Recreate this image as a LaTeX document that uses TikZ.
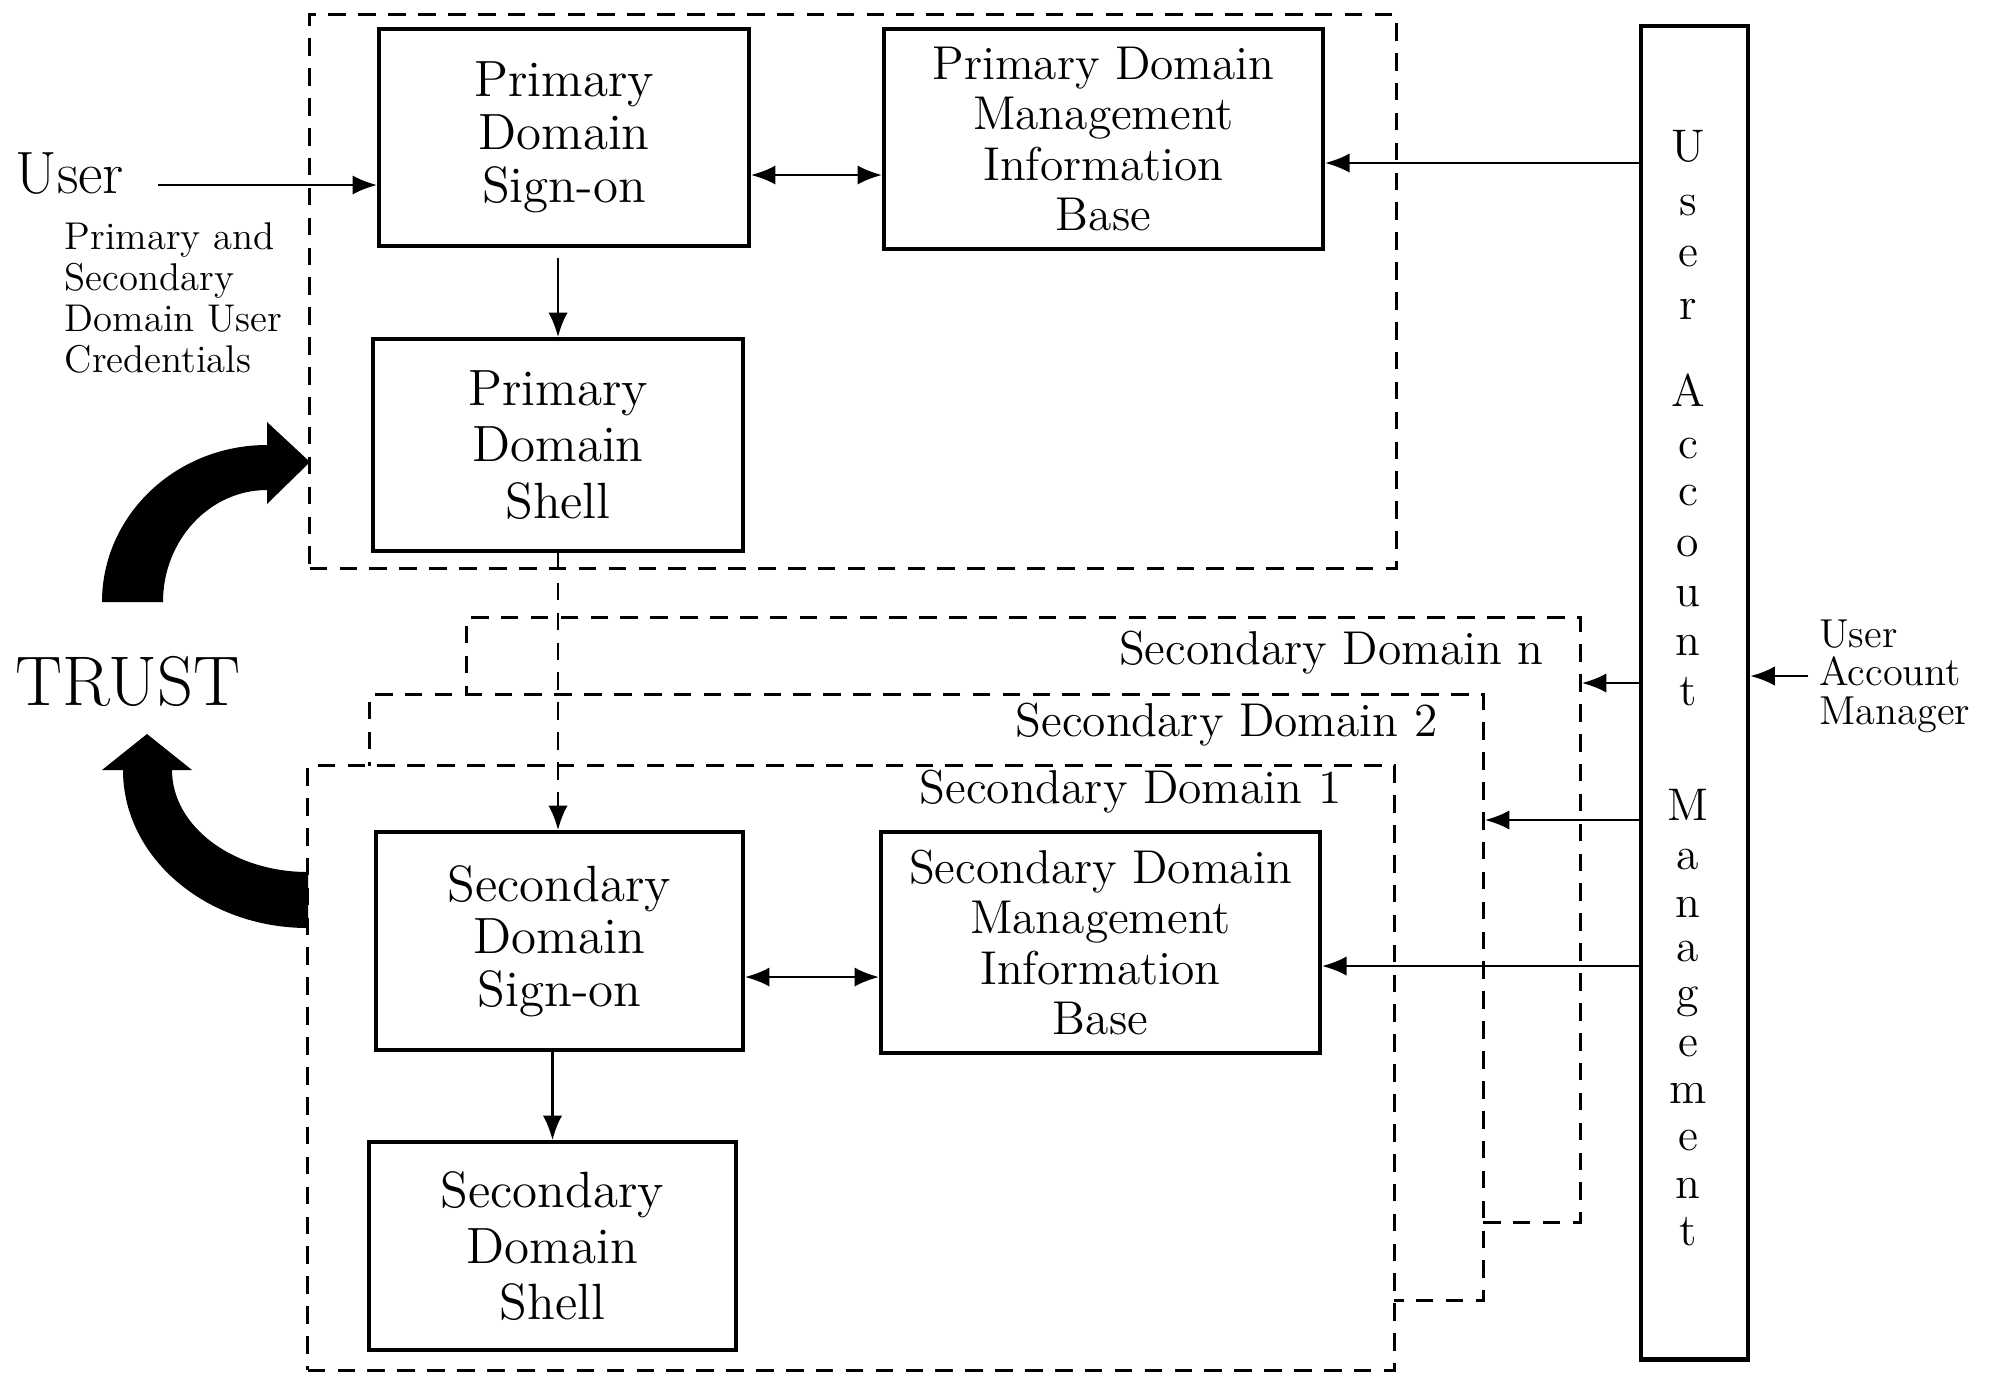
\documentclass[tikz,border=0pt]{standalone}
\usepackage{fontspec}
\usetikzlibrary{arrows.meta,calc}

\tikzset{
    box/.style={rectangle, draw, line width=1pt, inner sep=0pt, align=center, font=\fontsize{14.5}{15}\selectfont},
    shellbox/.style={box, font=\fontsize{14.5}{16}\selectfont},
    mibbox/.style={box, font=\fontsize{13.5}{14.4}\selectfont},
    domainbox/.style={rectangle, draw, fill=white, line width=0.8pt, dash pattern=on 5pt off 3.5pt, inner sep=0pt},
    domlabel/.style={anchor=base east, inner sep=0pt, font=\fontsize{13.5}{14}\selectfont},
    link/.style={-{Latex[length=7pt,width=5.5pt]}, line width=0.8pt},
    twoway/.style={{Latex[length=7pt,width=5.5pt]}-{Latex[length=7pt,width=5.5pt]}, line width=0.8pt},
}

\begin{document}
\begin{tikzpicture}[x=0.01cm, y=-0.01cm]
    \useasboundingbox (0,0) rectangle (2001,1372);

    % Primary domain
    \node[domainbox, minimum width=10.86cm, minimum height=5.53cm] (prim) at (853,291.5) {};
    \node[box, minimum width=3.7cm, minimum height=2.17cm] (pds) at (564,137.5) {Primary\\Domain\\Sign-on};
    \node[mibbox, minimum width=4.39cm, minimum height=2.2cm] (pmib) at (1103.5,139) {Primary Domain\\Management\\Information\\Base};
    \node[shellbox, minimum width=3.7cm, minimum height=2.12cm] (psh) at (558,445) {Primary\\Domain\\Shell};

    % Secondary domains, back to front
    \node[domainbox, minimum width=11.13cm, minimum height=6.04cm] (secn) at (1023.5,920) {};
    \node[domlabel] (secnlabel) at (1544,664) {Secondary Domain n};
    \node[domainbox, minimum width=11.13cm, minimum height=6.05cm] (sec2) at (926.5,997.5) {};
    \node[domlabel] (sec2label) at (1438,736) {Secondary Domain 2};
    \node[domainbox, minimum width=10.86cm, minimum height=6.04cm] (sec1) at (851,1068) {};
    \node[domlabel] (sec1label) at (1342,803) {Secondary Domain 1};

    \node[box, minimum width=3.67cm, minimum height=2.18cm] (sds) at (559.5,941) {Secondary\\Domain\\Sign-on};
    \node[mibbox, minimum width=4.39cm, minimum height=2.21cm] (smib) at (1100.5,942.5) {Secondary Domain\\Management\\Information\\Base};
    \node[shellbox, minimum width=3.67cm, minimum height=2.08cm] (ssh) at (552.5,1246) {Secondary\\Domain\\Shell};

    % User account management bar
    \node[box, line width=1.2pt, minimum width=1.07cm, minimum height=13.33cm] (uam) at (1694.5,692.5) {};
    \foreach \l/\y [count=\i] in {U/161, s/215, e/266, r/319, A/406, c/458, c/505, o/556, u/606, n/655, t/705,
                                  M/820, a/869, n/917, a/961, g/1007, e/1056, m/1103, e/1150, n/1198, t/1245}
        \node[anchor=base, inner sep=0pt, font=\fontsize{13}{13}\selectfont] (uamletter\i) at (1688,\y) {\l};

    % Labels outside
    \node[anchor=base west, inner sep=0pt, font=\fontsize{17}{18}\selectfont] (user) at (15,193) {User};
    \node[anchor=north west, inner sep=0pt, align=left, font=\fontsize{11}{11.7}\selectfont] (cred) at (64,222) {Primary and\\Secondary\\Domain User\\Credentials};
    \node[anchor=base west, inner sep=0pt, font=\fontsize{20}{22}\selectfont] (trust) at (15,705) {TRUST};
    \node[anchor=west, inner sep=3pt, align=left, font=\fontsize{11.5}{11}\selectfont] (uamgr) at (1808,676) {User\\Account\\Manager};

    % Trust arrows
    \fill (102,602) .. controls (102,515.3) and (175.9,445) .. (267,445) -- (267,422) -- (310,462)
        -- (267,504) -- (267,490) .. controls (209.6,490) and (163,540.1) .. (163,602) -- cycle;
    \fill (308,928) .. controls (205.8,928) and (123,857.3) .. (123,770) -- (102,770) -- (147,734)
        -- (192,770) -- (172,770) .. controls (172,826.3) and (232.9,872) .. (308,872) -- cycle;

    % Arrows in the primary domain
    \coordinate (userout) at (158,185);
    \draw[link] (userout) -- (userout -| pds.west);
    \draw[twoway] ($(pds.east)+(0,37.5)$) coordinate (pdsr) -- (pdsr -| pmib.west);
    \draw[link, shorten <=3pt] (psh.north |- pds.south) -- (psh.north);

    % Arrows in secondary domain 1
    \draw[twoway] ($(sds.east)+(0,36)$) coordinate (sdsr) -- (sdsr -| smib.west);
    \draw[link] (ssh.north |- sds.south) -- (ssh.north);
    \draw[link, dash pattern=on 5pt off 3.5pt] (psh.south) -- (psh.south |- sds.north);

    % Account management feeds
    \coordinate (pmibin) at ($(pmib.east)+(0,24)$);
    \coordinate (secnin) at ($(secn.east)+(0,-237)$);
    \coordinate (sec2in) at ($(sec2.east)+(0,-177.5)$);
    \coordinate (smibin) at ($(smib.east)+(0,23.5)$);
    \draw[link] (uam.west |- pmibin) -- (pmibin);
    \draw[link] (uam.west |- secnin) -- (secnin);
    \draw[link] (uam.west |- sec2in) -- (sec2in);
    \draw[link] (uam.west |- smibin) -- (smibin);
    \draw[link] (uamgr.west) -- (uamgr.west -| uam.east);

\end{tikzpicture}
\end{document}
